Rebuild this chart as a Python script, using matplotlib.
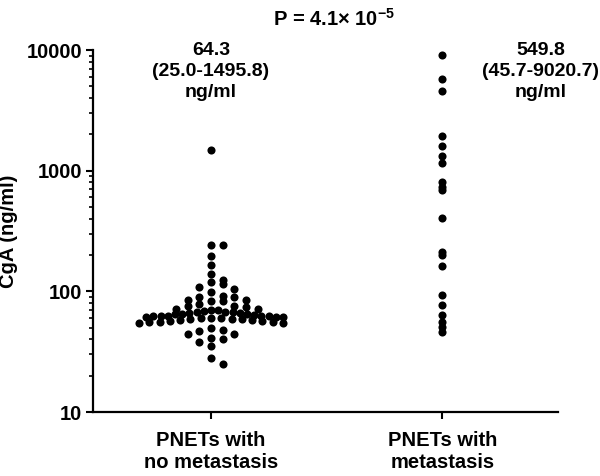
import numpy as np
import matplotlib.pyplot as plt

plt.rcParams['font.family'] = ['Liberation Sans', 'DejaVu Sans']
plt.rcParams['font.weight'] = 'bold'
plt.rcParams['mathtext.fontset'] = 'custom'
plt.rcParams['mathtext.rm'] = 'Liberation Sans:bold'
plt.rcParams['mathtext.default'] = 'rm'

# CgA values (ng/ml)
groups = ["PNETs with\nno metastasis", "PNETs with\nmetastasis"]
no_meta = [1495.8, 244, 241, 195, 166, 139,
           123, 119, 114, 109, 104,
           99, 92, 89, 89, 85, 85, 83, 83,
           78, 76, 75, 74, 72, 72, 70, 70,
           69, 68, 67, 67, 66, 66, 65, 65, 64.3, 64, 63, 63,
           62, 62, 62, 61, 61, 61, 60, 60, 60, 59, 59, 59,
           58, 57.5, 57, 57, 56, 56, 55.5, 55, 55,
           50, 48, 47, 44, 44, 41, 40, 38, 35, 28, 25.0]
meta = [9020.7, 5750, 4570, 1940, 1600, 1320, 1160, 806, 736, 691,
        405, 213, 200, 163, 93, 77, 64, 56, 51, 45.7]
medians = ["64.3\n(25.0-1495.8)\nng/ml", "549.8\n(45.7-9020.7)\nng/ml"]
p_text = "P = 4.1× 10$^{-5}$"

fig = plt.figure(figsize=(6, 4.76), dpi=100)
ax = fig.add_axes([93 / 600, 64 / 476, 465 / 600, 362 / 476])
ax.set_yscale('log')
ax.set_ylim(10, 10000)
ax.set_xlim(-0.51, 1.50)


def row_scatter(ax, xc, vals, b=8.0, step=11.7, max_half=72):
    # points closer than b px (vertically) share a row; rows are filled
    # centre, right, left, ... and squeezed when they get too wide
    vals = np.sort(np.asarray(vals, float))[::-1]
    pts = ax.transData.transform(np.column_stack([np.full(len(vals), xc), vals]))
    x0 = pts[0, 0]
    rows, cur = [], []
    for py in pts[:, 1]:
        if cur and cur[0] - py >= b:
            rows.append(cur)
            cur = []
        cur.append(py)
    rows.append(cur)
    out = []
    for r in rows:
        ks = [0]
        i = 1
        while len(ks) < len(r):
            ks += [i, -i]
            i += 1
        ks = ks[:len(r)]
        widest = max(abs(k) for k in ks)
        s = step if widest * step <= max_half else max_half / widest
        out += [(x0 + k * s, py) for k, py in zip(ks, r)]
    return ax.transData.inverted().transform(np.array(out))


left = row_scatter(ax, 0, no_meta)
ax.scatter(left[:, 0], left[:, 1], s=34, color='black', linewidths=0, zorder=3)
ax.scatter(np.ones(len(meta)), meta, s=34, color='black', linewidths=0, zorder=3)

for s in ['top', 'right']:
    ax.spines[s].set_visible(False)
for s in ['left', 'bottom']:
    ax.spines[s].set_linewidth(1.6)

ax.set_yticks([10, 100, 1000, 10000])
ax.set_yticklabels(['10', '100', '1000', '10000'])
ax.tick_params(axis='y', which='major', length=5, width=1.5, labelsize=14.5, pad=3)
ax.tick_params(axis='y', which='minor', length=3, width=1.2)
ax.set_xticks([0, 1])
ax.set_xticklabels(groups, linespacing=1.2)
ax.tick_params(axis='x', length=5, width=1.5, labelsize=14.5, pad=9)
ax.set_ylabel('CgA (ng/ml)', fontsize=14.5, fontweight='bold')
ax.yaxis.set_label_coords(-0.162, 0.5)

tr = ax.get_xaxis_transform()
ax.text(0, 0.94, medians[0], transform=tr, ha='center', va='center',
        fontsize=14, fontweight='bold', linespacing=1.3)
ax.text(1.425, 0.94, medians[1], transform=tr, ha='center', va='center',
        fontsize=14, fontweight='bold', linespacing=1.3, clip_on=False)
ax.text(0.53, 1.085, p_text, transform=tr, ha='center', va='center',
        fontsize=14.5, fontweight='bold')

plt.savefig('out.png', dpi=100)
plt.close()
